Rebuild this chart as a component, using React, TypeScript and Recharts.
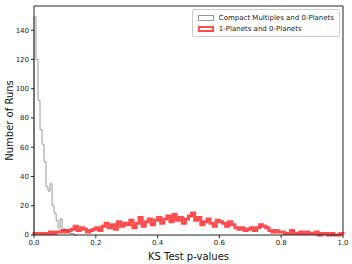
import { ComposedChart, Line, XAxis, YAxis, ReferenceLine } from "recharts";

// gray: Compact Multiples and 0-Planets, narrow bins starting at 0
const compactBinWidth = 0.0065;
const compactCounts = [149, 120, 92, 72, 62, 50, 33, 30, 35, 20, 15, 10, 5, 11, 3, 4, 3, 2, 1, 1, 0];

// red: 1-Planets and 0-Planets, bin width 0.01 from 0 to 1
const singleBinWidth = 0.01;
const singleCounts = [
  1, 1, 1, 1, 1, 2, 1, 2, 2, 3,
  2, 3, 4, 6, 3, 5, 4, 2, 3, 4,
  5, 3, 6, 8, 5, 7, 4, 9, 6, 8,
  7, 10, 5, 8, 12, 6, 9, 11, 7, 10,
  12, 8, 11, 13, 9, 14, 10, 12, 8, 11,
  13, 15, 10, 12, 7, 9, 11, 8, 6, 10,
  9, 8, 6, 9, 7, 5, 4, 5, 3, 4,
  5, 3, 5, 7, 6, 5, 3, 2, 3, 2,
  2, 1, 1, 3, 1, 1, 2, 1, 2, 1,
  1, 2, 0, 1, 1, 0, 1, 0, 0, 1,
];

const xTicks = [0, 0.2, 0.4, 0.6, 0.8, 1.0];
const yTicks = [0, 20, 40, 60, 80, 100, 120, 140];
const yMax = 156.5;

const FONT = "DejaVu Sans, sans-serif";

function stepData(counts: number[], width: number) {
  const pts = [{ x: 0, y: 0 }];
  counts.forEach((c, i) => pts.push({ x: i * width, y: c }));
  const end = counts.length * width;
  pts.push({ x: end, y: counts[counts.length - 1] });
  pts.push({ x: end, y: 0 });
  return pts;
}

const compactData = stepData(compactCounts, compactBinWidth);
const singleData = stepData(singleCounts, singleBinWidth);

function LegendBox() {
  const row = (stroke: string, sw: number, op: number, label: string) => (
    <div style={{ display: "flex", alignItems: "center", height: 11 }}>
      <div
        style={{
          width: 16,
          height: 6,
          border: `${sw}px solid ${stroke}`,
          opacity: op,
          marginRight: 5,
          boxSizing: "border-box",
        }}
      />
      <span>{label}</span>
    </div>
  );
  return (
    <div
      style={{
        position: "absolute",
        top: 9,
        right: 12,
        fontFamily: FONT,
        fontSize: 7,
        color: "#222",
        border: "1px solid #ccc",
        borderRadius: 2,
        padding: "2px 5px",
        background: "#fff",
      }}
    >
      {row("#999", 1, 1, "Compact Multiples and 0-Planets")}
      {row("#ff0000", 2, 0.7, "1-Planets and 0-Planets")}
    </div>
  );
}

export default function App() {
  return (
    <div style={{ position: "absolute", left: 0, top: 0, width: 352, height: 264, background: "#fff" }}>
      <ComposedChart width={352} height={264} margin={{ top: 6, right: 9, bottom: 0, left: 0 }}>
        <XAxis
          type="number"
          dataKey="x"
          domain={[0, 1]}
          ticks={xTicks}
          tickFormatter={(v: number) => v.toFixed(1)}
          allowDuplicatedCategory={false}
          height={29}
          tickSize={3}
          tick={{ fontSize: 7, fill: "#222", fontFamily: FONT }}
          stroke="#222"
          label={{ value: "KS Test p-values", position: "insideBottom", offset: 4, fontSize: 10, fill: "#111", fontFamily: FONT }}
        />
        <YAxis
          type="number"
          domain={[0, yMax]}
          ticks={yTicks}
          width={34}
          tickSize={3}
          tick={{ fontSize: 7, fill: "#222", fontFamily: FONT }}
          stroke="#222"
          label={{ value: "Number of Runs", angle: -90, position: "center", dx: -8, fontSize: 10, fill: "#111", fontFamily: FONT }}
        />
        <ReferenceLine x={1} stroke="#222" />
        <ReferenceLine y={yMax} stroke="#222" />
        <Line
          data={compactData}
          dataKey="y"
          type="stepAfter"
          stroke="#999"
          strokeWidth={1}
          dot={false}
          isAnimationActive={false}
        />
        <Line
          data={singleData}
          dataKey="y"
          type="stepAfter"
          stroke="#ff0000"
          strokeOpacity={0.7}
          strokeWidth={3}
          dot={false}
          isAnimationActive={false}
        />
      </ComposedChart>
      <LegendBox />
    </div>
  );
}
